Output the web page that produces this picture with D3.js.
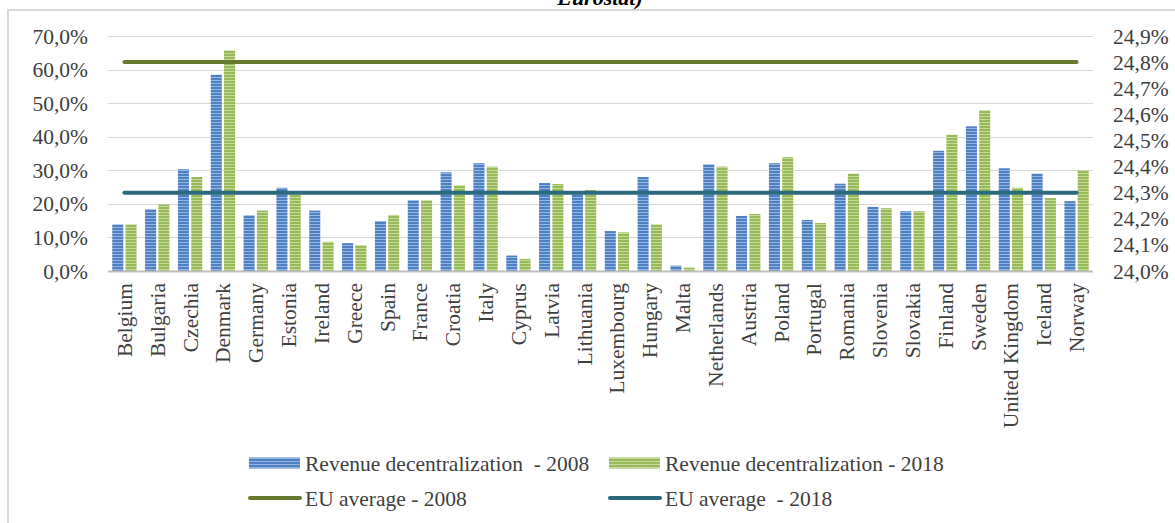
<!DOCTYPE html>
<html>
<head>
<meta charset="utf-8">
<script src="https://cdn.jsdelivr.net/npm/d3@7"></script>
<style>
  html, body { margin: 0; padding: 0; background: #fff; }
  svg { display: block; }
  svg text { font-family: "Liberation Serif", "Times New Roman", serif !important; fill: #404040; white-space: pre; }
</style>
</head>
<body>
<svg id="chart" width="1175" height="523"></svg>
<script>
const countries = ["Belgium","Bulgaria","Czechia","Denmark","Germany","Estonia","Ireland","Greece","Spain","France","Croatia","Italy","Cyprus","Latvia","Lithuania","Luxembourg","Hungary","Malta","Netherlands","Austria","Poland","Portugal","Romania","Slovenia","Slovakia","Finland","Sweden","United Kingdom","Iceland","Norway"];
const rev2008 = [13.9,18.4,30.3,58.5,16.6,24.8,18.0,8.3,14.9,21.1,29.4,32.1,4.6,26.2,23.5,11.9,28.0,1.6,31.8,16.4,32.1,15.2,26.0,19.1,17.8,35.8,43.1,30.6,29.0,20.8];
const rev2018 = [13.9,19.8,28.0,65.7,18.0,22.8,8.7,7.7,16.7,21.1,25.5,31.1,3.6,25.9,24.1,11.5,13.9,1.0,31.1,17.0,33.9,14.3,29.0,18.7,17.8,40.6,47.9,24.8,21.7,30.0];
const euAvg2008 = 24.8;
const euAvg2018 = 24.3;
const leftTicks = [0,10,20,30,40,50,60,70];
const rightTicks = [24.0,24.1,24.2,24.3,24.4,24.5,24.6,24.7,24.8,24.9];
const seriesNames = ["Revenue decentralization  - 2008","Revenue decentralization - 2018"];
const lineNames = ["EU average - 2008","EU average  - 2018"];
const titleText = "Eurostat)";

const svg = d3.select("#chart");
const defs = svg.append("defs");
function stripe(id, base, light) {
  const p = defs.append("pattern").attr("id", id).attr("patternUnits", "userSpaceOnUse")
    .attr("width", 6).attr("height", 3);
  p.append("rect").attr("width", 6).attr("height", 3).attr("fill", base);
  p.append("rect").attr("y", 2).attr("width", 6).attr("height", 1).attr("fill", light);
}
stripe("pBlue", "#4f80c2", "#93b6e3");
stripe("pGreen", "#98b957", "#c6da9c");

// frame
svg.append("line").attr("x1", 7).attr("x2", 1175).attr("y1", 10).attr("y2", 10).attr("stroke", "#d9d9d9").attr("stroke-width", 2);
svg.append("line").attr("x1", 8).attr("x2", 8).attr("y1", 9).attr("y2", 523).attr("stroke", "#d9d9d9").attr("stroke-width", 2);

// title (clipped at top, as in the source)
svg.append("text").attr("x", 600).attr("y", 5).attr("text-anchor", "middle")
  .style("font-size", "22px").style("font-weight", "bold").style("font-style", "italic").style("fill", "#000")
  .text(titleText);

const plot = { left: 108, right: 1093, top: 36, bottom: 271 };
const x = d3.scaleBand().domain(countries).range([plot.left, plot.right]).padding(0);
const xs = d3.scaleBand().domain(["2008","2018"]).range([0, x.bandwidth()]).paddingInner(0.17).paddingOuter(0.32);
const yL = d3.scaleLinear().domain([0, 70]).range([plot.bottom, plot.top]);
const yR = d3.scaleLinear().domain([24.0, 24.9]).range([plot.bottom, plot.top]);

// gridlines
svg.append("g").selectAll("line").data(leftTicks.filter(d => d > 0)).join("line")
  .attr("x1", plot.left).attr("x2", plot.right)
  .attr("y1", d => Math.round(yL(d)) + 0.5).attr("y2", d => Math.round(yL(d)) + 0.5)
  .attr("stroke", "#d9d9d9").attr("stroke-width", 1);

// left axis
const fmtL = d => d.toFixed(1).replace(".", ",") + "%";
const axL = svg.append("g").attr("transform", `translate(${plot.left - 20},0)`)
  .call(d3.axisLeft(yL).tickValues(leftTicks).tickFormat(fmtL).tickSize(0).tickPadding(0));
axL.select(".domain").remove();
axL.selectAll("text").style("font-size", "21.5px").attr("dy", "0.33em");

// right axis
const fmtR = d => d.toFixed(1).replace(".", ",") + "%";
const axR = svg.append("g").attr("transform", `translate(${plot.right + 20},0)`)
  .call(d3.axisRight(yR).tickValues(rightTicks).tickFormat(fmtR).tickSize(0).tickPadding(0));
axR.select(".domain").remove();
axR.selectAll("text").style("font-size", "21.5px").attr("dy", "0.33em");

// bars
const data = countries.map((c, i) => ({ c, v: [ {k:"2008", v: rev2008[i]}, {k:"2018", v: rev2018[i]} ] }));
svg.append("g").selectAll("g").data(data).join("g")
  .attr("transform", d => `translate(${x(d.c)},0)`)
  .selectAll("rect").data(d => d.v).join("rect")
  .attr("x", d => xs(d.k)).attr("width", xs.bandwidth())
  .attr("y", d => yL(d.v)).attr("height", d => yL(0) - yL(d.v))
  .attr("fill", d => d.k === "2008" ? "url(#pBlue)" : "url(#pGreen)");

// baseline
svg.append("line").attr("x1", plot.left).attr("x2", plot.right)
  .attr("y1", plot.bottom + 0.5).attr("y2", plot.bottom + 0.5).attr("stroke", "#bfbfbf").attr("stroke-width", 2);

// EU average lines
const xc = d => x(d) + x.bandwidth() / 2;
const line = d3.line().x(d => xc(d.c)).y(d => yR(d.v));
svg.append("path").datum(countries.map(c => ({ c, v: euAvg2008 })))
  .attr("d", line).attr("fill", "none").attr("stroke", "#667a2f").attr("stroke-width", 4).attr("stroke-linecap", "round");
svg.append("path").datum(countries.map(c => ({ c, v: euAvg2018 })))
  .attr("d", line).attr("fill", "none").attr("stroke", "#2a6a7d").attr("stroke-width", 4).attr("stroke-linecap", "round");

// category labels
svg.append("g").selectAll("text").data(countries).join("text")
  .attr("transform", d => `translate(${xc(d)},${plot.bottom + 12}) rotate(-90)`)
  .attr("text-anchor", "end").attr("dy", "0.35em")
  .style("font-size", "21.5px")
  .text(d => d);

// legend
const lg = svg.append("g");
const legItems = [
  { t: "rect", fill: "url(#pBlue)", x: 249, y: 463, name: seriesNames[0] },
  { t: "rect", fill: "url(#pGreen)", x: 609, y: 463, name: seriesNames[1] },
  { t: "line", stroke: "#667a2f", x: 249, y: 498, name: lineNames[0] },
  { t: "line", stroke: "#2a6a7d", x: 609, y: 498, name: lineNames[1] }
];
legItems.forEach(it => {
  if (it.t === "rect") {
    lg.append("rect").attr("x", it.x).attr("y", it.y - 5.5).attr("width", 51).attr("height", 11).attr("fill", it.fill);
  } else {
    lg.append("line").attr("x1", it.x + 1).attr("x2", it.x + 51).attr("y1", it.y).attr("y2", it.y)
      .attr("stroke", it.stroke).attr("stroke-width", 4).attr("stroke-linecap", "round");
  }
  lg.append("text").attr("x", it.x + 56).attr("y", it.y).attr("dy", "0.35em")
    .attr("xml:space", "preserve")
    .style("font-size", "21.5px").text(it.name);
});
</script>
</body>
</html>
